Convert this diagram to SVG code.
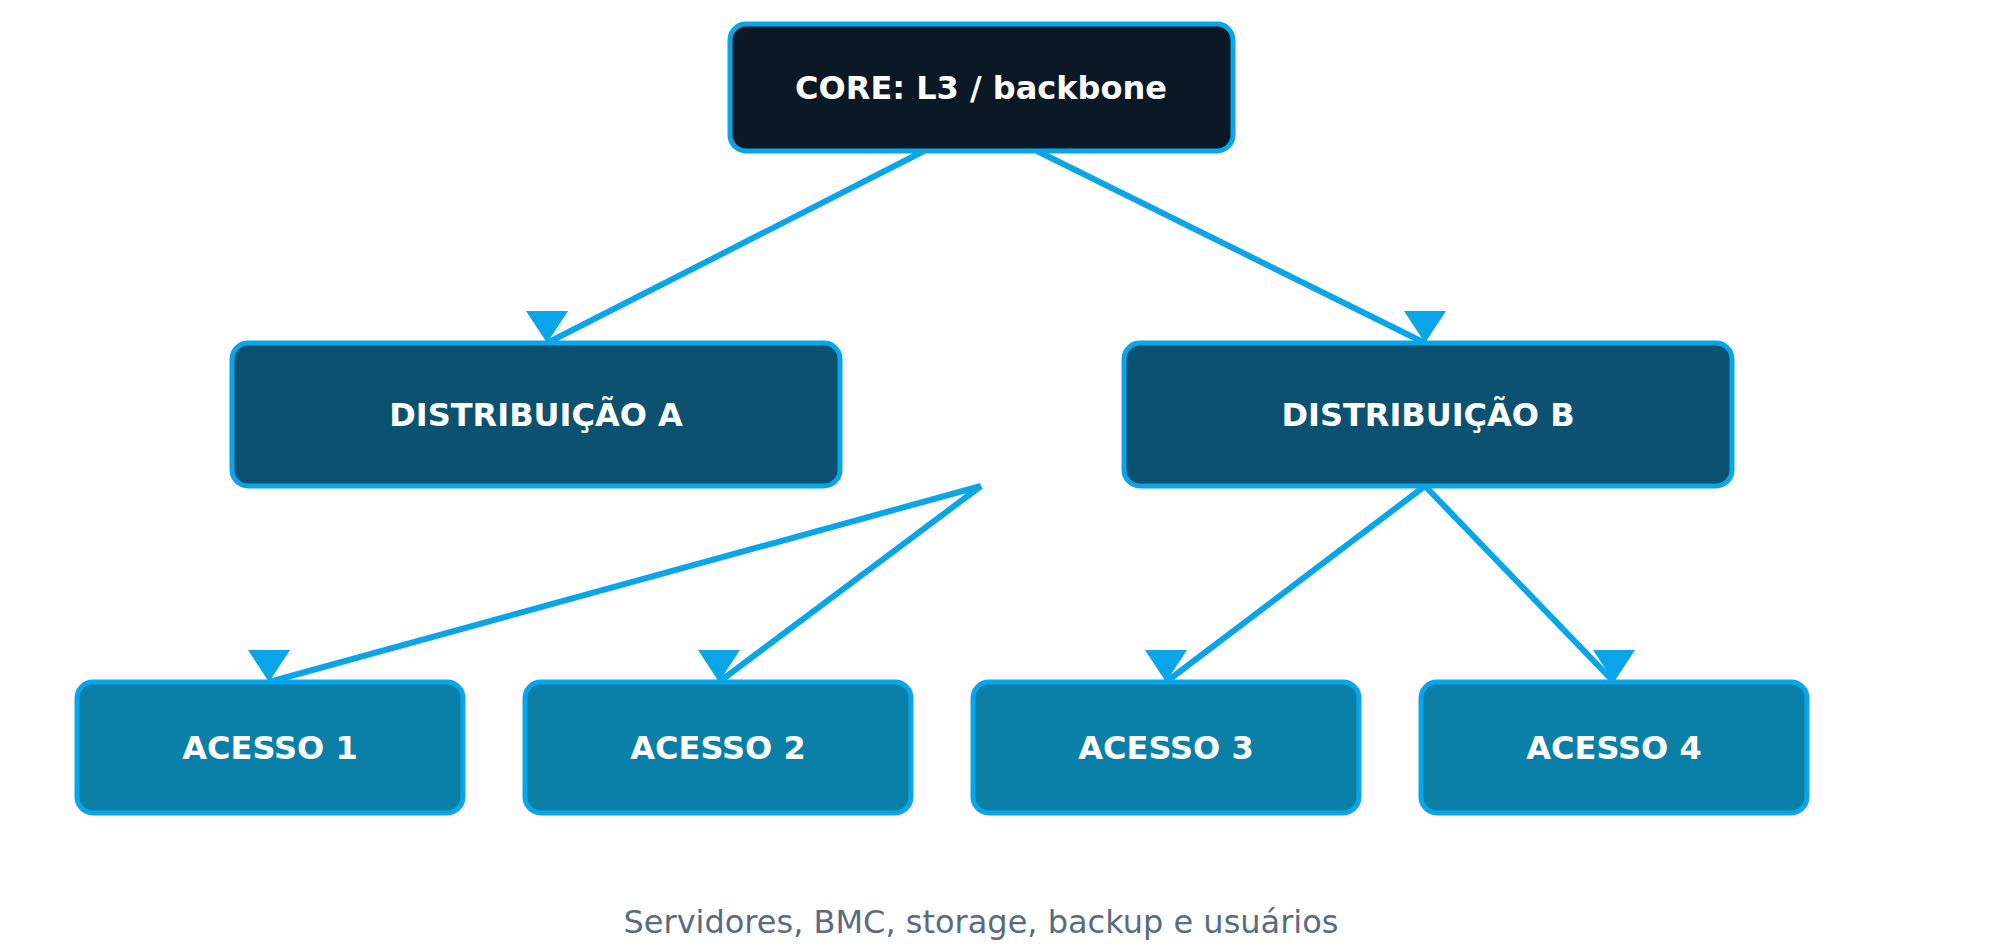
<svg xmlns="http://www.w3.org/2000/svg" width="1996" height="947" viewBox="0 0 1996 947">
<style>
.n{stroke:#0aa5e8;stroke-width:5}
.t{font-family:"DejaVu Sans",sans-serif;font-weight:bold;font-size:32px;fill:#fff;text-anchor:middle;dominant-baseline:central}
.e{stroke:#0aa5e8;stroke-width:6;fill:none}
.a{fill:#0aa5e8}
</style>
<rect width="1996" height="947" fill="#fff"/>
<g id="connectors">
<path class="e" d="M924 151L547 343M1037 151L1425 343M981 486L269 682M981 486L719 682M1425 486L1166 682M1425 486L1614 682"/>
<polygon class="a" points="526,311 568,311 547,343"/>
<polygon class="a" points="1404,311 1446,311 1425,343"/>
<polygon class="a" points="248,650 290,650 269,682"/>
<polygon class="a" points="698,650 740,650 719,682"/>
<polygon class="a" points="1145,650 1187,650 1166,682"/>
<polygon class="a" points="1593,650 1635,650 1614,682"/>
</g>
<g id="core"><rect class="n" x="730" y="24" width="503" height="127" rx="16" fill="#0b1826"/><text class="t" x="981" y="88">CORE: L3 / backbone</text></g>
<g id="distA"><rect class="n" x="232" y="343" width="608" height="143" rx="16" fill="#0c5170"/><text class="t" x="536" y="415">DISTRIBUIÇÃO A</text></g>
<g id="distB"><rect class="n" x="1124" y="343" width="608" height="143" rx="16" fill="#0c5170"/><text class="t" x="1428" y="415">DISTRIBUIÇÃO B</text></g>
<g id="acesso1"><rect class="n" x="77" y="682" width="386" height="131" rx="16" fill="#0a80a8"/><text class="t" x="270" y="748">ACESSO 1</text></g>
<g id="acesso2"><rect class="n" x="525" y="682" width="386" height="131" rx="16" fill="#0a80a8"/><text class="t" x="718" y="748">ACESSO 2</text></g>
<g id="acesso3"><rect class="n" x="973" y="682" width="386" height="131" rx="16" fill="#0a80a8"/><text class="t" x="1166" y="748">ACESSO 3</text></g>
<g id="acesso4"><rect class="n" x="1421" y="682" width="386" height="131" rx="16" fill="#0a80a8"/><text class="t" x="1614" y="748">ACESSO 4</text></g>
<text x="981" y="922" font-family="DejaVu Sans,sans-serif" font-size="32" fill="#5a6b7d" text-anchor="middle" dominant-baseline="central">Servidores, BMC, storage, backup e usuários</text>
</svg>
